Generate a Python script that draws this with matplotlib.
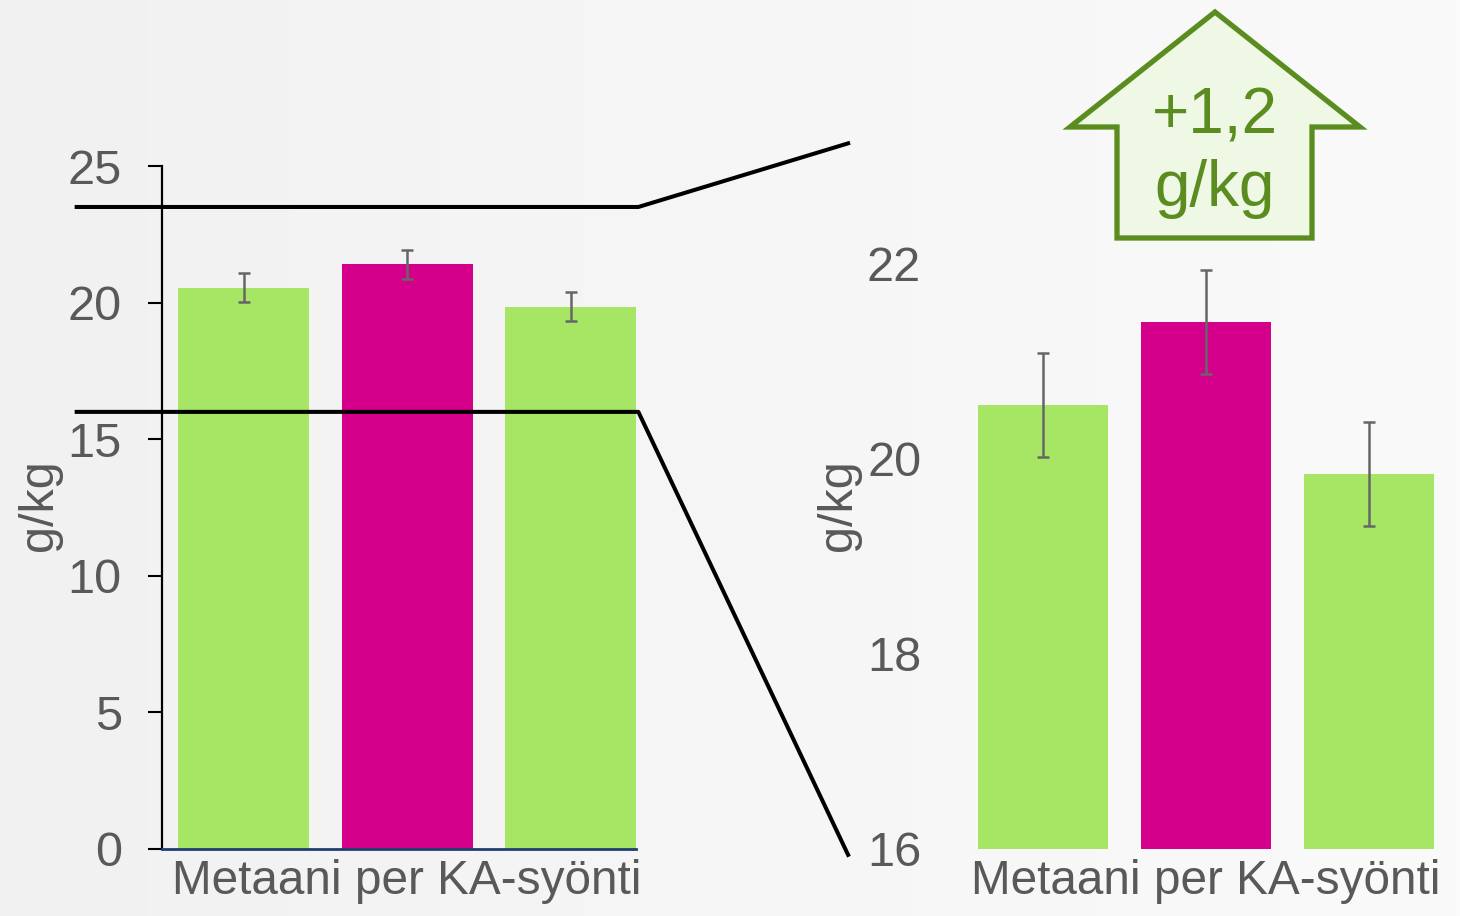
import numpy as np
import matplotlib
matplotlib.use("Agg")
import matplotlib.pyplot as plt
from matplotlib.patches import Polygon
from matplotlib.lines import Line2D

plt.rcParams["font.family"] = ["Liberation Sans", "DejaVu Sans"]

# data
CATEGORY = "Metaani per KA-syönti"
VALUES = [20.55, 21.40, 19.84]
ERRORS = [0.53, 0.53, 0.53]
BAR_COLORS = ["#a6e664", "#d4008c", "#a6e664"]
LEFT_TICKS = [0, 5, 10, 15, 20, 25]
RIGHT_TICKS = [16, 18, 20, 22]
ZOOM_LOW, ZOOM_HIGH = 16, 23.5
DIFF_LINES = ["+1,2", "g/kg"]

GRAY = "#595959"
GREEN_DARK = "#5b8c1f"
FS = 35
W, H = 1460, 916

fig = plt.figure(figsize=(W / 100, H / 100), dpi=100)

# soft gray background gradient
bg = fig.add_axes([0, 0, 1, 1], zorder=-10)
grad = np.linspace(0, 1, 256).reshape(1, -1)
bg.imshow(grad, aspect="auto", cmap=matplotlib.colors.LinearSegmentedColormap.from_list(
    "bg", ["#f1f1f1", "#f6f6f6", "#fafafa"]), extent=[0, 1, 0, 1])
bg.set_axis_off()

x = np.arange(len(VALUES))


def draw_bars(ax):
    ax.bar(x, VALUES, width=0.8, color=BAR_COLORS, zorder=2)
    ax.errorbar(x, VALUES, yerr=ERRORS, fmt="none", ecolor="#666666",
                elinewidth=1.8, capsize=4.5, capthick=1.8, zorder=3)
    ax.set_xlim(-0.5, 2.4)
    ax.set_xticks([1])
    ax.set_xticklabels([CATEGORY], fontsize=34.4, color=GRAY)
    ax.tick_params(axis="x", length=0, pad=7)
    ax.set_facecolor("none")
    ax.set_ylabel("g/kg", fontsize=FS, color=GRAY)


# left panel: full scale
axl = fig.add_axes([162 / W, 67 / H, 474 / W, 683 / H])
draw_bars(axl)
axl.set_ylim(0, 25)
axl.set_yticks(LEFT_TICKS)
axl.set_yticklabels([str(t) for t in LEFT_TICKS], fontsize=FS, color=GRAY)
axl.tick_params(axis="y", length=10, width=1.5, color="black", pad=19)
for s in ["top", "right"]:
    axl.spines[s].set_visible(False)
axl.spines["left"].set_linewidth(1.6)
axl.spines["left"].set_color("black")
axl.spines["bottom"].set_linewidth(2)
axl.spines["bottom"].set_color("#1f3f6f")
axl.yaxis.set_label_coords(-0.211, 0.504)

# right panel: zoomed
axr = fig.add_axes([961.5 / W, 67 / H, 472.5 / W, 732 / H])
draw_bars(axr)
axr.set_ylim(ZOOM_LOW, ZOOM_HIGH)
axr.set_yticks(RIGHT_TICKS)
axr.set_yticklabels([str(t) for t in RIGHT_TICKS], fontsize=FS, color=GRAY)
axr.tick_params(axis="y", length=10, color="none", pad=19)
for s in axr.spines.values():
    s.set_visible(False)
axr.yaxis.set_label_coords(-0.213, 0.47)

# zoom connector lines (left data range -> right panel)
fig.canvas.draw()
inv = fig.transFigure.inverted()


def to_fig(ax, xa, yd):
    px = ax.transAxes.transform((xa, 0))[0]
    py = ax.transData.transform((0, yd))[1]
    return inv.transform((px, py))


for yv, end_y in [(ZOOM_HIGH, 23.23), (ZOOM_LOW, 15.94)]:
    p0 = to_fig(axl, -0.18, yv)
    p1 = to_fig(axl, 1.005, yv)
    p2 = to_fig(axr, -0.24, end_y)
    fig.add_artist(Line2D([p0[0], p1[0], p2[0]], [p0[1], p1[1], p2[1]],
                          color="black", lw=2.9, zorder=5))

# up-arrow callout
arrow_px = [(1215, 12), (1360, 127), (1312, 127), (1312, 238),
            (1117, 238), (1117, 127), (1070, 127)]
arrow = Polygon([(px / W, 1 - py / H) for px, py in arrow_px], closed=True,
                transform=fig.transFigure, facecolor="#eef8e4",
                edgecolor=GREEN_DARK, lw=3.8, zorder=6)
fig.add_artist(arrow)
for txt, base_y in zip(DIFF_LINES, [134, 206]):
    fig.text(1215 / W, 1 - base_y / H, txt, ha="center", va="baseline",
             fontsize=46, color=GREEN_DARK, zorder=7)

fig.savefig("out.png", dpi=100)
